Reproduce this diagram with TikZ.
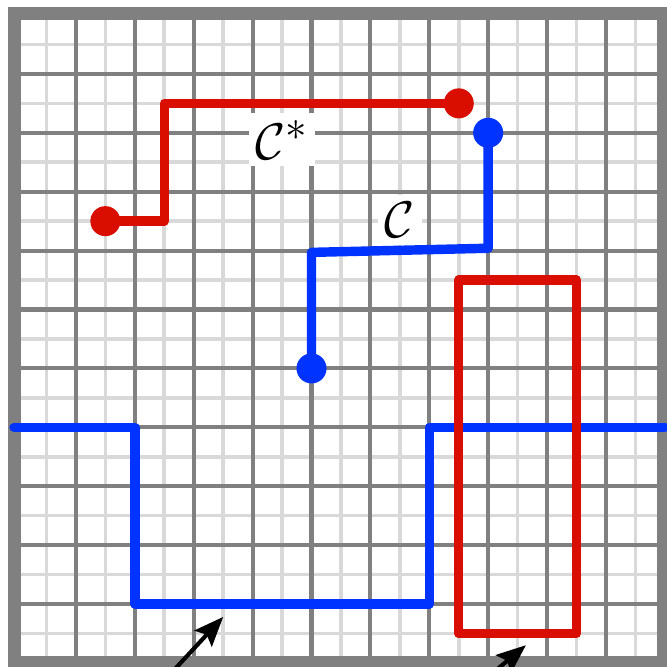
\documentclass[tikz,border=0pt]{standalone}
\usetikzlibrary{arrows.meta}
\definecolor{pathred}{RGB}{217,13,0}
\definecolor{pathblue}{RGB}{0,51,255}
\definecolor{gridgray}{RGB}{128,128,128}
\definecolor{gridlight}{RGB}{217,217,217}

\begin{document}
\begin{tikzpicture}[
  curve/.style={line width=0.16cm, line join=round, line cap=round},
  dot/.style={circle, fill, inner sep=0pt, minimum size=0.51cm},
  lbl/.style={fill=white, inner sep=0.12cm, font=\Huge},
  pointer/.style={line width=0.07cm, -{Stealth[length=0.5cm,width=0.4cm,inset=0.09cm]}}]
\useasboundingbox (-0.289,-0.068) rectangle (11.036,11.255);
\clip (-0.289,-0.068) rectangle (11.036,11.255);
% lattice
\draw [gridlight, line width=0.06cm] (0,0) grid[step=0.5] (11,11);
\draw [gridgray, line width=0.07cm] (0,0) grid[step=1] (11,11);
\draw [gridgray, line width=0.22cm] (-0.04,0.01) rectangle (10.98,11.03);
% labels
\node (cstar) at (4.50,8.88) [lbl] {$\mathcal{C}^*$};
\node (cc) at (6.50,7.52) [lbl] {$\mathcal{C}$};
% dual path
\node (rs) at (1.5,7.5) [dot, pathred] {};
\node (re) at (7.5,9.5) [dot, pathred] {};
\draw [curve, pathred] (rs.center) -- (2.5,7.5) -- (2.5,9.5) -- (re.center);
\node (bs) at (5,5) [dot, pathblue] {};
\node (be) at (8,9) [dot, pathblue] {};
\draw [curve, pathblue] (bs.center) -- (5,6.97) -- (8,7.04) -- (be.center);
% crossing
\draw [curve, pathblue] (-0.05,4) -- (2,4) -- (2,1) -- (7,1) -- (7,4) -- (11,4);
\draw [curve, pathred] (7.5,0.5) rectangle (9.5,6.5);
% pointers
\coordinate (tailA) at (2.50,-0.30);
\coordinate (tipA) at (3.50,0.78);
\coordinate (tailB) at (7.90,-0.32);
\coordinate (tipB) at (8.64,0.30);
\draw [pointer] (tailA) -- (tipA);
\draw [pointer] (tailB) -- (tipB);
\end{tikzpicture}
\end{document}
